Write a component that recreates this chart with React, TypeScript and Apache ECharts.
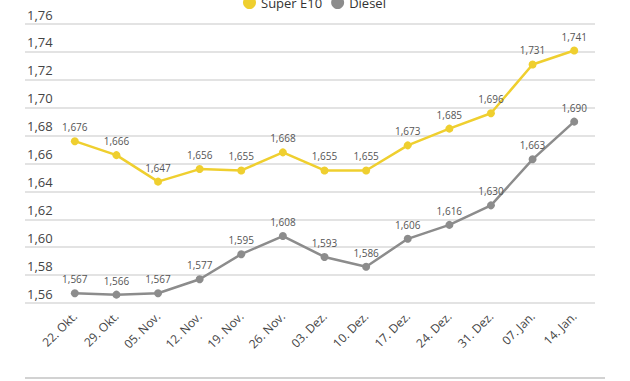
import React, { useEffect, useRef } from "react";
import * as echarts from "echarts";

const categories = ["22. Okt.", "29. Okt.", "05. Nov.", "12. Nov.", "19. Nov.", "26. Nov.", "03. Dez.", "10. Dez.", "17. Dez.", "24. Dez.", "31. Dez.", "07. Jan.", "14. Jan."];
const superE10 = [1.676, 1.666, 1.647, 1.656, 1.655, 1.668, 1.655, 1.655, 1.673, 1.685, 1.696, 1.731, 1.741];
const diesel = [1.567, 1.566, 1.567, 1.577, 1.595, 1.608, 1.593, 1.586, 1.606, 1.616, 1.630, 1.663, 1.690];
const yMin = 1.56;
const yMax = 1.76;
const yStep = 0.02;

const YELLOW = "#efcf2f";
const GRAY = "#8c8c8c";
const FONT = "'Open Sans', 'Noto Sans', sans-serif";

const fmt = (v: number, d: number) => v.toFixed(d).replace(".", ",");

export default function App() {
  const ref = useRef<HTMLDivElement>(null);
  useEffect(() => {
    const chart = echarts.init(ref.current!, null, { renderer: "svg" });
    const top = 24;
    const bottom = 78;
    const labelStyle = { show: true, position: "top" as const, distance: 5, fontSize: 10, color: "#555", fontFamily: FONT, formatter: (p: any) => fmt(p.value, 3) };
    chart.setOption({
      animation: false,
      backgroundColor: "#fff",
      legend: {
        top: -9,
        left: 238,
        itemWidth: 13,
        itemHeight: 13,
        itemGap: 9,
        icon: "circle",
        textStyle: { fontSize: 13, color: "#333", fontFamily: FONT },
        data: ["Super E10", "Diesel"],
      },
      grid: [
        { left: 54, right: 35, top, bottom },
        { left: 25, right: 35, top, bottom },
      ],
      xAxis: [
        {
          type: "category",
          gridIndex: 0,
          data: categories,
          boundaryGap: true,
          axisLine: { show: false },
          axisTick: { show: false },
          axisLabel: { rotate: 45, margin: 11, fontSize: 12, color: "#444", fontFamily: FONT, interval: 0 },
        },
        { type: "value", gridIndex: 1, show: false, min: 0, max: 1 },
      ],
      yAxis: [
        { type: "value", gridIndex: 0, min: yMin, max: yMax, interval: yStep, show: false },
        {
          type: "value",
          gridIndex: 1,
          min: yMin,
          max: yMax,
          interval: yStep,
          axisLine: { show: false },
          axisTick: { show: false },
          splitLine: { lineStyle: { color: "#dadada", width: 1.5 } },
          axisLabel: {
            inside: true,
            margin: 2,
            verticalAlign: "bottom",
            padding: [0, 0, 3, 0],
            fontSize: 13,
            color: "#444",
            fontFamily: FONT,
            formatter: (v: number) => fmt(v, 2),
          },
        },
      ],
      series: [
        {
          name: "Super E10",
          type: "line",
          xAxisIndex: 0,
          yAxisIndex: 0,
          data: superE10,
          color: YELLOW,
          lineStyle: { width: 2.5, color: YELLOW },
          symbol: "circle",
          symbolSize: 8,
          itemStyle: { color: YELLOW },
          label: labelStyle,
        },
        {
          name: "Diesel",
          type: "line",
          xAxisIndex: 0,
          yAxisIndex: 0,
          data: diesel,
          color: GRAY,
          lineStyle: { width: 2.5, color: GRAY },
          symbol: "circle",
          symbolSize: 8,
          itemStyle: { color: GRAY },
          label: labelStyle,
        },
      ],
      graphic: [
        {
          type: "line",
          shape: { x1: 25, y1: 378, x2: 605, y2: 378 },
          style: { stroke: "#d2d2d2", lineWidth: 2 },
        },
      ],
    });
    return () => chart.dispose();
  }, []);
  return <div ref={ref} style={{ width: 630, height: 381, position: "absolute", left: 0, top: 0 }} />;
}
